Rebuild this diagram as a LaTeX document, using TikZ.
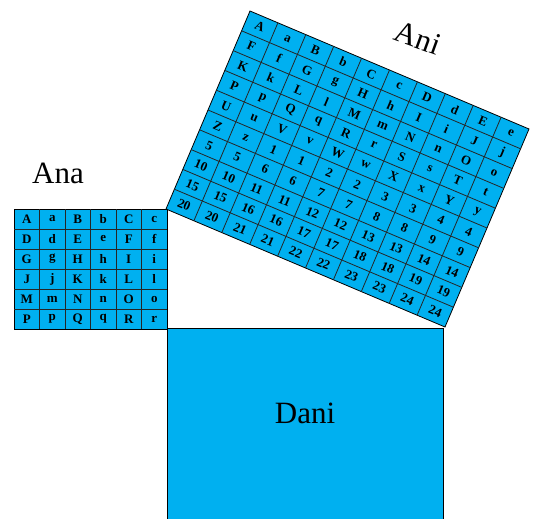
\documentclass[tikz,border=0pt]{standalone}
\usepackage{fontspec}
\setmainfont{Liberation Serif}
\usepackage{xcolor}
\usetikzlibrary{positioning}
\definecolor{sqblue}{HTML}{00B0F0}
\tikzset{
  sq/.style={draw=black,fill=sqblue,line width=0.8pt},
  gridline/.style={draw=black!85,line width=0.8pt},
  cell/.style={font=\bfseries\fontsize{13}{13}\selectfont,inner sep=0pt},
  title/.style={font=\fontsize{31}{31}\selectfont,inner sep=0pt},
}

\begin{document}
\begin{tikzpicture}[x=1pt,y=-1pt]
  \useasboundingbox (0,0) rectangle (539,519);

  % Dani
  \path[sq] (167,328) rectangle (443,530);
  \node[title] (dani) at (305,413) {Dani};

  % Ana, 6 x 6
  \begin{scope}[shift={(14,209)},x=25.5pt,y=-20pt]
    \path[sq] (0,0) rectangle (6,6);
    \foreach \i in {1,...,5}{
      \draw[gridline] (\i,0) -- (\i,6);
      \draw[gridline] (0,\i) -- (6,\i);
    }
    \foreach \row [count=\r] in {{A,a,B,b,C,c},{D,d,E,e,F,f},{G,g,H,h,I,i},
        {J,j,K,k,L,l},{M,m,N,n,O,o},{P,p,Q,q,R,r}}
      \foreach \t [count=\c] in \row
        \node[cell] (ana-\r-\c) at (\c-0.5,\r-0.5) {\t};
  \end{scope}
  \node[title] (ana) at (58,173) {Ana};

  % Ani, 10 x 10, tilted
  \begin{scope}[shift={(166,209)},x={(27.9pt,-11.8pt)},y={(8.4pt,19.8pt)}]
    \path[sq] (0,0) -- (10,0) -- (10,10) -- (0,10) -- cycle;
    \foreach \i in {1,...,9}{
      \draw[gridline] (\i,0) -- (\i,10);
      \draw[gridline] (0,\i) -- (10,\i);
    }
    \foreach \row [count=\r] in {{A,a,B,b,C,c,D,d,E,e},{F,f,G,g,H,h,I,i,J,j},
        {K,k,L,l,M,m,N,n,O,o},{P,p,Q,q,R,r,S,s,T,t},{U,u,V,v,W,w,X,x,Y,y},
        {Z,z,1,1,2,2,3,3,4,4},{5,5,6,6,7,7,8,8,9,9},
        {10,10,11,11,12,12,13,13,14,14},{15,15,16,16,17,17,18,18,19,19},
        {20,20,21,21,22,22,23,23,24,24}}
      \foreach \t [count=\c] in \row
        \node[cell,rotate=-23] (ani-\r-\c) at (\c-0.5,10.5-\r) {\t};
  \end{scope}
  \node[title,rotate=-20] (ani) at (418,38) {Ani};
\end{tikzpicture}
\end{document}
